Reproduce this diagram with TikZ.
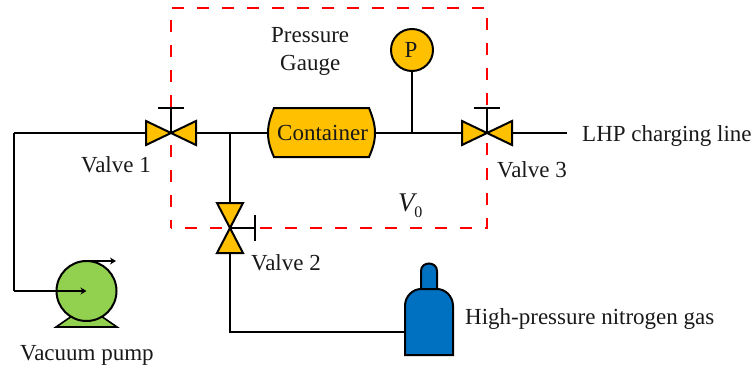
\documentclass[tikz,border=0pt]{standalone}
\usepackage{fontspec}
\setmainfont{Liberation Serif}
\usetikzlibrary{arrows.meta}
\definecolor{amber}{HTML}{FFC000}
\definecolor{pumpgreen}{HTML}{92D050}
\definecolor{bottleblue}{HTML}{0070C0}
\tikzset{
  pipe/.style={draw=black,line width=2.2pt,line join=miter},
  thinpipe/.style={draw=black,line width=1.8pt},
  part/.style={draw=black,line width=2pt,line join=miter},
  label/.style={inner sep=0pt,anchor=base west,font=\fontsize{23}{25}\selectfont,text=black!90},
  flow/.style={-{Stealth[length=6pt,width=7pt]}},
}
\begin{document}
\begin{tikzpicture}[x=1pt,y=-1pt]
\useasboundingbox (0,0) rectangle (755,369);
% named points
\coordinate (v1) at (171,133);
\coordinate (v2) at (230,228);
\coordinate (v3) at (487,133);
\coordinate (j) at (230,133);
\coordinate (t) at (412,133);
\coordinate (w) at (14,133);
\coordinate (c1) at (14,291);
\coordinate (pc) at (86.5,291);
\coordinate (c2) at (230,332);
\coordinate (cyl) at (405,332);
\coordinate (end) at (567,133);
% red boundary
\draw[red,line width=2pt,dash pattern=on 12pt off 13pt,dash phase=4pt] (171,228) -- (171,8) -- (487,8) -- (487,228) -- cycle;
% pipes
\draw[pipe] (w) -- (v1) -- (j);
\draw[pipe] (w) -- (c1);
\draw[pipe] (j) -- (v2) -- (c2) -- (cyl);
\draw[pipe] (j) -- (t) -- (v3) -- (end);
\node[circle,minimum size=42pt,inner sep=0pt,part,fill=amber] (gauge) at (412,50) {};
\draw[pipe] (gauge) -- (t);
% pump
\draw[part,line width=1.6pt,fill=pumpgreen] (56,327) -- (72,316) -- (101,316) -- (117,327) -- cycle;
\node[circle,minimum size=60pt,inner sep=0pt,part,fill=pumpgreen] (pump) at (pc) {};
\draw[thinpipe,flow] (c1) -- (pc);
\coordinate (ptop) at (90,261);
\coordinate (pout) at (116,261);
\draw[thinpipe,flow] (ptop) -- (pout);
% valve 1
\draw[part,fill=amber] (v1) -- (146,121) -- (146,145) -- cycle;
\draw[part,fill=amber] (v1) -- (196,121) -- (196,145) -- cycle;
\coordinate (s1) at (171,108);
\draw[thinpipe] (v1) -- (s1) (158,108) -- (184,108);
% valve 3
\draw[part,fill=amber] (v3) -- (462,121) -- (462,145) -- cycle;
\draw[part,fill=amber] (v3) -- (512,121) -- (512,145) -- cycle;
\coordinate (s3) at (487,108);
\draw[thinpipe] (v3) -- (s3) (474,108) -- (500,108);
% valve 2
\draw[part,fill=amber] (v2) -- (217,203) -- (243,203) -- cycle;
\draw[part,fill=amber] (v2) -- (217,253) -- (243,253) -- cycle;
\coordinate (s2) at (255,228);
\draw[thinpipe] (v2) -- (s2) (255,215) -- (255,241);
% container
\draw[part,fill=amber] (274,108) -- (369,108) .. controls (373,118) and (375,125) .. (375,133) .. controls (375,141) and (373,148) .. (369,157) -- (274,157) .. controls (270,148) and (268,141) .. (268,133) .. controls (268,125) and (270,118) .. (274,108) -- cycle;
% bottle
\draw[part,fill=bottleblue] (421,289) -- (421,271) .. controls (421,266) and (425,263.5) .. (429,263.5) .. controls (433,263.5) and (437,266) .. (437,271) -- (437,289) -- cycle;
\draw[part,fill=bottleblue] (405,355) -- (405,306) .. controls (405,296) and (413,289) .. (421,289) -- (437,289) .. controls (445,289) and (453,296) .. (453,306) -- (453,355) -- cycle;
% labels
\node[label] (lv1) at (81,172.5) {Valve 1};
\node[label] (lv2) at (251,270) {Valve 2};
\node[label] (lv3) at (497,177.5) {Valve 3};
\node[label] (lp1) at (271,43) {Pressure};
\node[label] (lp2) at (280,70.5) {Gauge};
\node[label] (lc) at (277,140.5) {Container};
\node[label] (lP) at (404.5,58) {P};
\node[label] (lline) at (582,141) {LHP charging line};
\node[label] (lgas) at (465,324) {High-pressure nitrogen gas};
\node[label] (lvac) at (20,360) {Vacuum pump};
\node[label] (lv0) at (398,211) {\fontsize{27}{29}\selectfont\textit{V}\kern-3pt\raisebox{-6pt}{\fontsize{16}{17}\selectfont 0}};
\end{tikzpicture}
\end{document}
